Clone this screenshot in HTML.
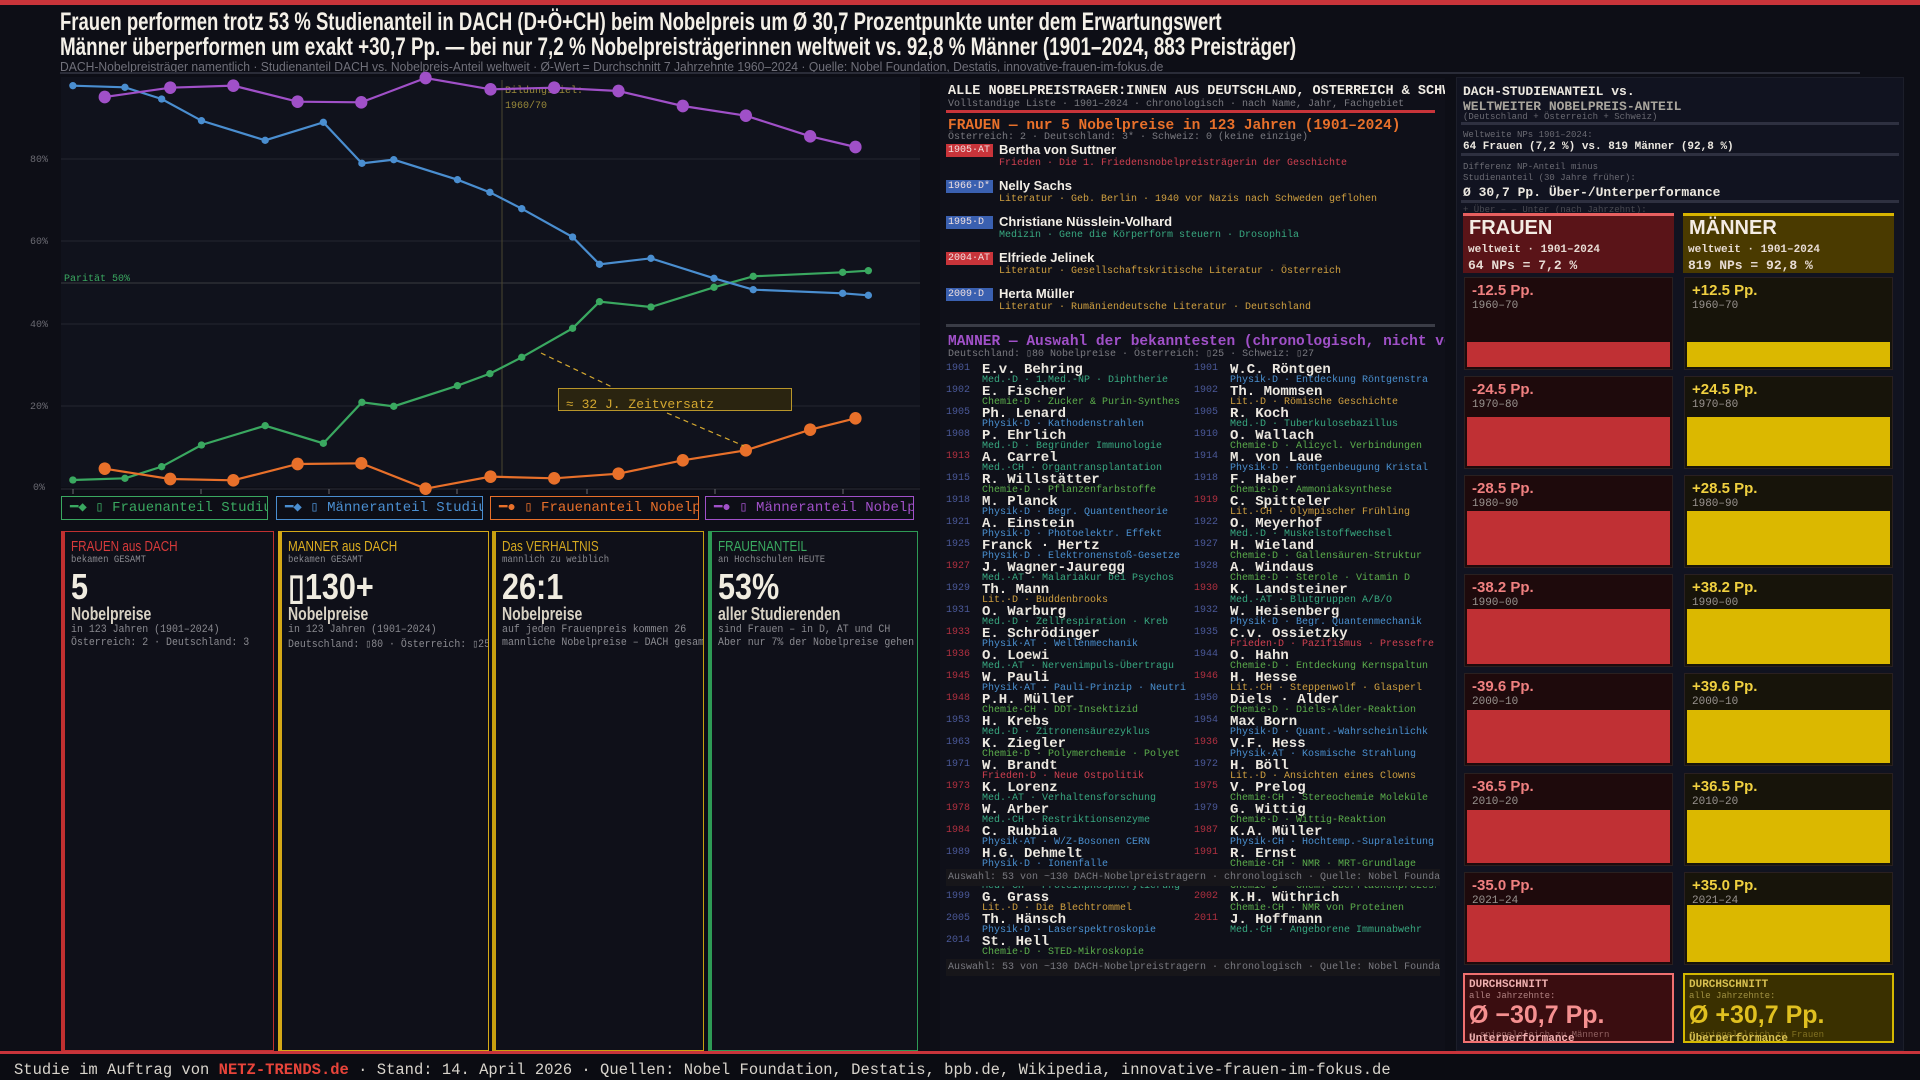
<!DOCTYPE html>
<html><head><meta charset="utf-8">
<style>
*{margin:0;padding:0;box-sizing:border-box}
body{width:1920px;height:1080px;background:#0d0e16;color:#e8e4dc;font-family:"Liberation Mono",monospace;position:relative;overflow:hidden}
.a{position:absolute;white-space:nowrap}
.n{font-family:"Liberation Sans",sans-serif;transform-origin:0 0}
.s{font-family:"Liberation Sans",sans-serif}
.card{position:absolute;top:531px;height:520px;background:#0f1019;border:1px solid;border-left-width:4px;overflow:hidden}
.card div{position:absolute;left:6px;white-space:nowrap;transform-origin:0 0}
.ct{top:6px;font-size:15px;font-family:"Liberation Sans",sans-serif;transform:scaleX(0.78)}
.cs{top:22px;font-size:10.5px;color:#8a8a90;transform:scaleX(0.85)}
.cb{top:34px;font-size:36px;font-weight:bold;font-family:"Liberation Sans",sans-serif;color:#f0ece0;transform:scaleX(0.85)}
.cl{top:72px;font-size:18px;font-weight:bold;font-family:"Liberation Sans",sans-serif;color:#d8d2c4;transform:scaleX(0.78)}
.c1{top:92px;font-size:11px;color:#8a8a90;transform:scaleX(0.9)}
.c2{top:105px;font-size:11px;color:#8a8a90;transform:scaleX(0.9)}
.row{position:absolute;height:22px;white-space:nowrap}
.row .y{position:absolute;left:0;top:0;font-size:10px;color:#4a5898}
.row .y.r{color:#b03040}
.row .nm{position:absolute;left:36px;top:0;font-size:14px;font-weight:bold;line-height:14px;color:#ece8e0}
.row .dt{position:absolute;left:36px;top:13px;font-size:10px;line-height:10px}
.med{color:#38a880}.che{color:#5cae4c}.phy{color:#4a90d0}.lit{color:#d0a040}.fri{color:#d04050}
.fe{position:absolute;left:946px;white-space:nowrap}
.fe .b{position:absolute;left:0;top:0;width:47px;height:13px;font-size:10px;line-height:13px;padding-left:2px;color:#f0e0e0}
.fe .nm{position:absolute;left:53px;top:-2px;font-size:13px;font-weight:bold;font-family:"Liberation Sans",sans-serif;color:#f2eee6}
.fe .dt{position:absolute;left:53px;top:14px;font-size:10px}
.dc{position:absolute;width:209px;height:93px;border:1px solid #2a2020}
.dc .v{position:absolute;left:7px;top:4px;font-size:15px;font-weight:bold;font-family:"Liberation Sans",sans-serif}
.dc .yr{position:absolute;left:7px;top:22px;font-size:11px;color:#9a9490}
.dc .bar{position:absolute;left:2px;right:2px;bottom:2px}
</style></head><body>
<div class="a" style="left:0;top:0;width:1920px;height:5px;background:#c8343a"></div>
<div class="a n" style="left:60px;top:8px;font-size:25px;font-weight:bold;color:#f4f0e8;transform:scaleX(0.74)">Frauen performen trotz 53 % Studienanteil in DACH (D+Ö+CH) beim Nobelpreis um Ø 30,7 Prozentpunkte unter dem Erwartungswert</div>
<div class="a n" style="left:60px;top:33px;font-size:25px;font-weight:bold;color:#f4f0e8;transform:scaleX(0.753)">Männer überperformen um exakt +30,7 Pp. — bei nur 7,2 % Nobelpreisträgerinnen weltweit vs. 92,8 % Männer (1901–2024, 883 Preisträger)</div>
<div class="a n" style="left:60px;top:60px;font-size:12.5px;color:#70707a;transform:scaleX(0.97)">DACH-Nobelpreisträger namentlich · Studienanteil DACH vs. Nobelpreis-Anteil weltweit · Ø-Wert = Durchschnitt 7 Jahrzehnte 1960–2024 · Quelle: Nobel Foundation, Destatis, innovative-frauen-im-fokus.de</div>
<div class="a" style="left:60px;top:72px;width:1800px;height:2px;background:#2a2c38"></div>

<svg class="a" style="left:0;top:0" width="960" height="530" viewBox="0 0 960 530">
<rect x="61" y="77" width="859" height="410" fill="#10121c"/>
<g stroke="#23252f" stroke-width="1">
<line x1="61" x2="920" y1="159" y2="159"/><line x1="61" x2="920" y1="241" y2="241"/>
<line x1="61" x2="920" y1="324" y2="324"/><line x1="61" x2="920" y1="406" y2="406"/>
</g>
<line x1="61" x2="920" y1="283" y2="283" stroke="#3a3c40" stroke-width="1"/>
<line x1="502" x2="502" y1="80" y2="477" stroke="#4a4630" stroke-width="1"/>
<line x1="61" x2="920" y1="489" y2="489" stroke="#2a2c36"/>
<g stroke="#6a6a70"><line x1="73" x2="73" y1="489" y2="494"/><line x1="201" x2="201" y1="489" y2="494"/><line x1="329" x2="329" y1="489" y2="494"/><line x1="457" x2="457" y1="489" y2="494"/><line x1="587" x2="587" y1="489" y2="494"/><line x1="715" x2="715" y1="489" y2="494"/><line x1="843" x2="843" y1="489" y2="494"/></g>
<g font-family="Liberation Mono" font-size="10" fill="#6a6a72" text-anchor="middle">
<text x="39" y="162">80%</text><text x="39" y="244">60%</text><text x="39" y="327">40%</text><text x="39" y="409">20%</text><text x="39" y="490">0%</text>
</g>
<text x="64" y="281" font-family="Liberation Mono" font-size="10" fill="#3aa860">Parität 50%</text>
<text x="505" y="93" font-family="Liberation Mono" font-size="10" fill="#9a8a3a">Bildungsziel:</text>
<text x="505" y="108" font-family="Liberation Mono" font-size="10" fill="#9a8a3a">1960/70</text>
<g transform="scale(0.61237,0.33333)">
<polyline fill="none" stroke="#3aa860" stroke-width="2.2" vector-effect="non-scaling-stroke" points="119,1440 204,1435 264,1400 329,1335 433,1277 528,1330 591,1207 643,1219 747,1157 800,1121 852,1072 935,985 979,905 1063,921 1166,862 1230,829 1376,817 1418,812"/>
<polyline fill="none" stroke="#4a8ed0" stroke-width="2.2" vector-effect="non-scaling-stroke" points="119,257 204,262 264,297 329,362 433,421 528,367 591,490 643,479 747,539 800,577 852,626 935,711 979,793 1063,775 1166,835 1230,869 1376,880 1418,886"/>
<polyline fill="none" stroke="#a050c8" stroke-width="2.2" vector-effect="non-scaling-stroke" points="171,291 278,263 381,257 486,305 590,307 695,234 801,268 905,263 1010,273 1115,318 1218,347 1323,409 1397,441"/>
<polyline fill="none" stroke="#e8702a" stroke-width="2.2" vector-effect="non-scaling-stroke" points="171,1406 278,1437 381,1441 486,1392 590,1390 695,1466 801,1430 905,1435 1010,1421 1115,1381 1218,1351 1323,1289 1397,1255"/>
<g fill="#3aa860"><ellipse cx="119" cy="1440" rx="6" ry="11"/><ellipse cx="204" cy="1435" rx="6" ry="11"/><ellipse cx="264" cy="1400" rx="6" ry="11"/><ellipse cx="329" cy="1335" rx="6" ry="11"/><ellipse cx="433" cy="1277" rx="6" ry="11"/><ellipse cx="528" cy="1330" rx="6" ry="11"/><ellipse cx="591" cy="1207" rx="6" ry="11"/><ellipse cx="643" cy="1219" rx="6" ry="11"/><ellipse cx="747" cy="1157" rx="6" ry="11"/><ellipse cx="800" cy="1121" rx="6" ry="11"/><ellipse cx="852" cy="1072" rx="6" ry="11"/><ellipse cx="935" cy="985" rx="6" ry="11"/><ellipse cx="979" cy="905" rx="6" ry="11"/><ellipse cx="1063" cy="921" rx="6" ry="11"/><ellipse cx="1166" cy="862" rx="6" ry="11"/><ellipse cx="1230" cy="829" rx="6" ry="11"/><ellipse cx="1376" cy="817" rx="6" ry="11"/><ellipse cx="1418" cy="812" rx="6" ry="11"/></g>
<g fill="#4a8ed0"><ellipse cx="119" cy="257" rx="6" ry="11"/><ellipse cx="204" cy="262" rx="6" ry="11"/><ellipse cx="264" cy="297" rx="6" ry="11"/><ellipse cx="329" cy="362" rx="6" ry="11"/><ellipse cx="433" cy="421" rx="6" ry="11"/><ellipse cx="528" cy="367" rx="6" ry="11"/><ellipse cx="591" cy="490" rx="6" ry="11"/><ellipse cx="643" cy="479" rx="6" ry="11"/><ellipse cx="747" cy="539" rx="6" ry="11"/><ellipse cx="800" cy="577" rx="6" ry="11"/><ellipse cx="852" cy="626" rx="6" ry="11"/><ellipse cx="935" cy="711" rx="6" ry="11"/><ellipse cx="979" cy="793" rx="6" ry="11"/><ellipse cx="1063" cy="775" rx="6" ry="11"/><ellipse cx="1166" cy="835" rx="6" ry="11"/><ellipse cx="1230" cy="869" rx="6" ry="11"/><ellipse cx="1376" cy="880" rx="6" ry="11"/><ellipse cx="1418" cy="886" rx="6" ry="11"/></g>
<g fill="#a050c8"><ellipse cx="171" cy="291" rx="10" ry="19"/><ellipse cx="278" cy="263" rx="10" ry="19"/><ellipse cx="381" cy="257" rx="10" ry="19"/><ellipse cx="486" cy="305" rx="10" ry="19"/><ellipse cx="590" cy="307" rx="10" ry="19"/><ellipse cx="695" cy="234" rx="10" ry="19"/><ellipse cx="801" cy="268" rx="10" ry="19"/><ellipse cx="905" cy="263" rx="10" ry="19"/><ellipse cx="1010" cy="273" rx="10" ry="19"/><ellipse cx="1115" cy="318" rx="10" ry="19"/><ellipse cx="1218" cy="347" rx="10" ry="19"/><ellipse cx="1323" cy="409" rx="10" ry="19"/><ellipse cx="1397" cy="441" rx="10" ry="19"/></g>
<g fill="#e8702a"><ellipse cx="171" cy="1406" rx="10" ry="19"/><ellipse cx="278" cy="1437" rx="10" ry="19"/><ellipse cx="381" cy="1441" rx="10" ry="19"/><ellipse cx="486" cy="1392" rx="10" ry="19"/><ellipse cx="590" cy="1390" rx="10" ry="19"/><ellipse cx="695" cy="1466" rx="10" ry="19"/><ellipse cx="801" cy="1430" rx="10" ry="19"/><ellipse cx="905" cy="1435" rx="10" ry="19"/><ellipse cx="1010" cy="1421" rx="10" ry="19"/><ellipse cx="1115" cy="1381" rx="10" ry="19"/><ellipse cx="1218" cy="1351" rx="10" ry="19"/><ellipse cx="1323" cy="1289" rx="10" ry="19"/><ellipse cx="1397" cy="1255" rx="10" ry="19"/></g>
</g>
<line x1="541" y1="353" x2="612" y2="387" stroke="#d4a830" stroke-width="1.2" stroke-dasharray="5,4"/>
<line x1="667" y1="413" x2="744" y2="446" stroke="#d4a830" stroke-width="1.2" stroke-dasharray="5,4"/>
<rect x="558.5" y="388.5" width="233" height="22" fill="#2a2410" stroke="#b8952a"/>
<text x="566" y="408" font-family="Liberation Mono" font-size="13" fill="#d4a830">≈ 32 J. Zeitversatz</text>
</svg>

<!-- legend -->
<div class="a" style="left:61px;top:496px;width:207px;height:24px;border:1px solid #3aa860;overflow:hidden;color:#3aa860;font-size:14px;line-height:22px;padding-left:8px">━◆ ▯ Frauenanteil Studium</div>
<div class="a" style="left:276px;top:496px;width:207px;height:24px;border:1px solid #4a8ed0;overflow:hidden;color:#4a8ed0;font-size:14px;line-height:22px;padding-left:8px">━◆ ▯ Männeranteil Studium</div>
<div class="a" style="left:490px;top:496px;width:209px;height:24px;border:1px solid #e8702a;overflow:hidden;color:#e8702a;font-size:14px;line-height:22px;padding-left:8px">━● ▯ Frauenanteil Nobelpreis</div>
<div class="a" style="left:705px;top:496px;width:209px;height:24px;border:1px solid #a050c8;overflow:hidden;color:#a050c8;font-size:14px;line-height:22px;padding-left:8px">━● ▯ Männeranteil Nobelpreis</div>

<!-- cards -->
<div class="card" style="left:61px;width:213px;border-color:#c03030">
<div class="ct" style="color:#d83a3a">FRAUEN aus DACH</div><div class="cs">bekamen GESAMT</div><div class="cb">5</div><div class="cl">Nobelpreise</div><div class="c1">in 123 Jahren (1901–2024)</div><div class="c2">Österreich: 2 · Deutschland: 3</div></div>
<div class="card" style="left:278px;width:211px;border-color:#d4a817">
<div class="ct" style="color:#e0b020">MANNER aus DACH</div><div class="cs">bekamen GESAMT</div><div class="cb">▯130+</div><div class="cl">Nobelpreise</div><div class="c1">in 123 Jahren (1901–2024)</div><div class="c2">Deutschland: ▯80 · Österreich: ▯25</div></div>
<div class="card" style="left:492px;width:212px;border-color:#c8a010">
<div class="ct" style="color:#d4a820">Das VERHALTNIS</div><div class="cs">mannlich zu weiblich</div><div class="cb">26:1</div><div class="cl">Nobelpreise</div><div class="c1">auf jeden Frauenpreis kommen 26</div><div class="c2">mannliche Nobelpreise – DACH gesamt</div></div>
<div class="card" style="left:708px;width:210px;border-color:#2e9a55">
<div class="ct" style="color:#3aaa60">FRAUENANTEIL</div><div class="cs">an Hochschulen HEUTE</div><div class="cb">53%</div><div class="cl">aller Studierenden</div><div class="c1">sind Frauen – in D, AT und CH</div><div class="c2">Aber nur 7% der Nobelpreise gehen an Frauen</div></div>

<!-- middle panel -->
<div class="a" style="left:940px;top:78px;width:505px;height:973px;background:#0f1019;overflow:hidden">
<div class="a" style="left:8px;top:6px;font-size:13.5px;font-weight:bold;color:#f0ece4">ALLE NOBELPREISTRAGER:INNEN AUS DEUTSCHLAND, OSTERREICH &amp; SCHWEIZ</div>
<div class="a" style="left:8px;top:21px;font-size:10px;color:#7a7a80">Vollstandige Liste · 1901–2024 · chronologisch · nach Name, Jahr, Fachgebiet</div>
<div class="a" style="left:6px;top:32px;width:489px;height:3px;background:#c8343a"></div>
<div class="a" style="left:8px;top:40px;font-size:14.5px;font-weight:bold;color:#e8702a">FRAUEN — nur 5 Nobelpreise in 123 Jahren (1901–2024)</div>
<div class="a" style="left:8px;top:54px;font-size:10px;color:#7a7a80">Österreich: 2 · Deutschland: 3* · Schweiz: 0 (keine einzige)</div>
<div class="a" style="left:6px;top:246px;width:489px;height:3px;background:#3a3c46"></div>
<div class="a" style="left:8px;top:256px;font-size:14.5px;font-weight:bold;color:#a050c8">MANNER — Auswahl der bekanntesten (chronologisch, nicht vollständig)</div>
<div class="a" style="left:8px;top:270px;font-size:10px;color:#7a7a80">Deutschland: ▯80 Nobelpreise · Österreich: ▯25 · Schweiz: ▯27</div>
</div>

<div class="fe" style="top:144px"><div class="b" style="background:#c8343a">1905·AT</div><div class="nm">Bertha von Suttner</div><div class="dt fri">Frieden · Die 1. Friedensnobelpreisträgerin der Geschichte</div></div>
<div class="fe" style="top:180px"><div class="b" style="background:#3a60b0">1966·D*</div><div class="nm">Nelly Sachs</div><div class="dt lit">Literatur · Geb. Berlin · 1940 vor Nazis nach Schweden geflohen</div></div>
<div class="fe" style="top:216px"><div class="b" style="background:#3a60b0">1995·D</div><div class="nm">Christiane Nüsslein-Volhard</div><div class="dt med">Medizin · Gene die Körperform steuern · Drosophila</div></div>
<div class="fe" style="top:252px"><div class="b" style="background:#c8343a">2004·AT</div><div class="nm">Elfriede Jelinek</div><div class="dt lit">Literatur · Gesellschaftskritische Literatur · Österreich</div></div>
<div class="fe" style="top:288px"><div class="b" style="background:#3a60b0">2009·D</div><div class="nm">Herta Müller</div><div class="dt lit">Literatur · Rumäniendeutsche Literatur · Deutschland</div></div>

<div class="a" style="left:946px;top:363px;width:490px;height:640px;overflow:hidden">
<div class="row" style="left:0;top:0"><span class="y">1901</span><span class="nm">E.v. Behring</span><span class="dt med">Med.·D · 1.Med.-NP · Diphtherie</span></div>
<div class="row" style="left:0;top:22px"><span class="y">1902</span><span class="nm">E. Fischer</span><span class="dt che">Chemie·D · Zucker &amp; Purin-Synthes</span></div>
<div class="row" style="left:0;top:44px"><span class="y">1905</span><span class="nm">Ph. Lenard</span><span class="dt phy">Physik·D · Kathodenstrahlen</span></div>
<div class="row" style="left:0;top:66px"><span class="y">1908</span><span class="nm">P. Ehrlich</span><span class="dt med">Med.·D · Begründer Immunologie</span></div>
<div class="row" style="left:0;top:88px"><span class="y r">1913</span><span class="nm">A. Carrel</span><span class="dt med">Med.·CH · Organtransplantation</span></div>
<div class="row" style="left:0;top:110px"><span class="y">1915</span><span class="nm">R. Willstätter</span><span class="dt che">Chemie·D · Pflanzenfarbstoffe</span></div>
<div class="row" style="left:0;top:132px"><span class="y">1918</span><span class="nm">M. Planck</span><span class="dt phy">Physik·D · Begr. Quantentheorie</span></div>
<div class="row" style="left:0;top:154px"><span class="y">1921</span><span class="nm">A. Einstein</span><span class="dt phy">Physik·D · Photoelektr. Effekt</span></div>
<div class="row" style="left:0;top:176px"><span class="y">1925</span><span class="nm">Franck · Hertz</span><span class="dt phy">Physik·D · Elektronenstoß-Gesetze</span></div>
<div class="row" style="left:0;top:198px"><span class="y r">1927</span><span class="nm">J. Wagner-Jauregg</span><span class="dt med">Med.·AT · Malariakur bei Psychos</span></div>
<div class="row" style="left:0;top:220px"><span class="y">1929</span><span class="nm">Th. Mann</span><span class="dt lit">Lit.·D · Buddenbrooks</span></div>
<div class="row" style="left:0;top:242px"><span class="y">1931</span><span class="nm">O. Warburg</span><span class="dt med">Med.·D · Zellrespiration · Kreb</span></div>
<div class="row" style="left:0;top:264px"><span class="y r">1933</span><span class="nm">E. Schrödinger</span><span class="dt phy">Physik·AT · Wellenmechanik</span></div>
<div class="row" style="left:0;top:286px"><span class="y r">1936</span><span class="nm">O. Loewi</span><span class="dt med">Med.·AT · Nervenimpuls-Übertragu</span></div>
<div class="row" style="left:0;top:308px"><span class="y r">1945</span><span class="nm">W. Pauli</span><span class="dt phy">Physik·AT · Pauli-Prinzip · Neutri</span></div>
<div class="row" style="left:0;top:330px"><span class="y r">1948</span><span class="nm">P.H. Müller</span><span class="dt che">Chemie·CH · DDT-Insektizid</span></div>
<div class="row" style="left:0;top:352px"><span class="y">1953</span><span class="nm">H. Krebs</span><span class="dt med">Med.·D · Zitronensäurezyklus</span></div>
<div class="row" style="left:0;top:374px"><span class="y">1963</span><span class="nm">K. Ziegler</span><span class="dt che">Chemie·D · Polymerchemie · Polyet</span></div>
<div class="row" style="left:0;top:396px"><span class="y">1971</span><span class="nm">W. Brandt</span><span class="dt fri">Frieden·D · Neue Ostpolitik</span></div>
<div class="row" style="left:0;top:418px"><span class="y r">1973</span><span class="nm">K. Lorenz</span><span class="dt med">Med.·AT · Verhaltensforschung</span></div>
<div class="row" style="left:0;top:440px"><span class="y r">1978</span><span class="nm">W. Arber</span><span class="dt med">Med.·CH · Restriktionsenzyme</span></div>
<div class="row" style="left:0;top:462px"><span class="y r">1984</span><span class="nm">C. Rubbia</span><span class="dt phy">Physik·AT · W/Z-Bosonen CERN</span></div>
<div class="row" style="left:0;top:484px"><span class="y">1989</span><span class="nm">H.G. Dehmelt</span><span class="dt phy">Physik·D · Ionenfalle</span></div>
<div class="row" style="left:0;top:506px"><span class="y r">1992</span><span class="nm">E. Fischer</span><span class="dt med">Med.·CH · Proteinphosphorylierung</span></div>
<div class="row" style="left:0;top:528px"><span class="y">1999</span><span class="nm">G. Grass</span><span class="dt lit">Lit.·D · Die Blechtrommel</span></div>
<div class="row" style="left:0;top:550px"><span class="y">2005</span><span class="nm">Th. Hänsch</span><span class="dt phy">Physik·D · Laserspektroskopie</span></div>
<div class="row" style="left:0;top:572px"><span class="y">2014</span><span class="nm">St. Hell</span><span class="dt che">Chemie·D · STED-Mikroskopie</span></div>

<div class="row" style="left:248px;top:0"><span class="y">1901</span><span class="nm">W.C. Röntgen</span><span class="dt phy">Physik·D · Entdeckung Röntgenstra</span></div>
<div class="row" style="left:248px;top:22px"><span class="y">1902</span><span class="nm">Th. Mommsen</span><span class="dt lit">Lit.·D · Römische Geschichte</span></div>
<div class="row" style="left:248px;top:44px"><span class="y">1905</span><span class="nm">R. Koch</span><span class="dt med">Med.·D · Tuberkulosebazillus</span></div>
<div class="row" style="left:248px;top:66px"><span class="y">1910</span><span class="nm">O. Wallach</span><span class="dt che">Chemie·D · Alicycl. Verbindungen</span></div>
<div class="row" style="left:248px;top:88px"><span class="y">1914</span><span class="nm">M. von Laue</span><span class="dt phy">Physik·D · Röntgenbeugung Kristal</span></div>
<div class="row" style="left:248px;top:110px"><span class="y">1918</span><span class="nm">F. Haber</span><span class="dt che">Chemie·D · Ammoniaksynthese</span></div>
<div class="row" style="left:248px;top:132px"><span class="y r">1919</span><span class="nm">C. Spitteler</span><span class="dt lit">Lit.·CH · Olympischer Frühling</span></div>
<div class="row" style="left:248px;top:154px"><span class="y">1922</span><span class="nm">O. Meyerhof</span><span class="dt med">Med.·D · Muskelstoffwechsel</span></div>
<div class="row" style="left:248px;top:176px"><span class="y">1927</span><span class="nm">H. Wieland</span><span class="dt che">Chemie·D · Gallensäuren-Struktur</span></div>
<div class="row" style="left:248px;top:198px"><span class="y">1928</span><span class="nm">A. Windaus</span><span class="dt che">Chemie·D · Sterole · Vitamin D</span></div>
<div class="row" style="left:248px;top:220px"><span class="y r">1930</span><span class="nm">K. Landsteiner</span><span class="dt med">Med.·AT · Blutgruppen A/B/O</span></div>
<div class="row" style="left:248px;top:242px"><span class="y">1932</span><span class="nm">W. Heisenberg</span><span class="dt phy">Physik·D · Begr. Quantenmechanik</span></div>
<div class="row" style="left:248px;top:264px"><span class="y">1935</span><span class="nm">C.v. Ossietzky</span><span class="dt fri">Frieden·D · Pazifismus · Pressefre</span></div>
<div class="row" style="left:248px;top:286px"><span class="y">1944</span><span class="nm">O. Hahn</span><span class="dt che">Chemie·D · Entdeckung Kernspaltun</span></div>
<div class="row" style="left:248px;top:308px"><span class="y r">1946</span><span class="nm">H. Hesse</span><span class="dt lit">Lit.·CH · Steppenwolf · Glasperl</span></div>
<div class="row" style="left:248px;top:330px"><span class="y">1950</span><span class="nm">Diels · Alder</span><span class="dt che">Chemie·D · Diels-Alder-Reaktion</span></div>
<div class="row" style="left:248px;top:352px"><span class="y">1954</span><span class="nm">Max Born</span><span class="dt phy">Physik·D · Quant.-Wahrscheinlichk</span></div>
<div class="row" style="left:248px;top:374px"><span class="y r">1936</span><span class="nm">V.F. Hess</span><span class="dt phy">Physik·AT · Kosmische Strahlung</span></div>
<div class="row" style="left:248px;top:396px"><span class="y">1972</span><span class="nm">H. Böll</span><span class="dt lit">Lit.·D · Ansichten eines Clowns</span></div>
<div class="row" style="left:248px;top:418px"><span class="y r">1975</span><span class="nm">V. Prelog</span><span class="dt che">Chemie·CH · Stereochemie Moleküle</span></div>
<div class="row" style="left:248px;top:440px"><span class="y">1979</span><span class="nm">G. Wittig</span><span class="dt che">Chemie·D · Wittig-Reaktion</span></div>
<div class="row" style="left:248px;top:462px"><span class="y r">1987</span><span class="nm">K.A. Müller</span><span class="dt phy">Physik·CH · Hochtemp.-Supraleitung</span></div>
<div class="row" style="left:248px;top:484px"><span class="y r">1991</span><span class="nm">R. Ernst</span><span class="dt che">Chemie·CH · NMR · MRT-Grundlage</span></div>
<div class="row" style="left:248px;top:506px"><span class="y">2007</span><span class="nm">G. Ertl</span><span class="dt che">Chemie·D · Chem. Oberflächenprozesse</span></div>
<div class="row" style="left:248px;top:528px"><span class="y r">2002</span><span class="nm">K.H. Wüthrich</span><span class="dt che">Chemie·CH · NMR von Proteinen</span></div>
<div class="row" style="left:248px;top:550px"><span class="y r">2011</span><span class="nm">J. Hoffmann</span><span class="dt med">Med.·CH · Angeborene Immunabwehr</span></div>
</div>
<div class="a" style="left:946px;top:869px;width:494px;height:17px;background:#17161a;font-size:10px;line-height:17px;color:#7a7a80;padding-left:2px;overflow:hidden">Auswahl: 53 von ~130 DACH-Nobelpreistragern · chronologisch · Quelle: Nobel Foundation</div>
<div class="a" style="left:946px;top:959px;width:494px;height:17px;background:#17161a;font-size:10px;line-height:17px;color:#7a7a80;padding-left:2px;overflow:hidden">Auswahl: 53 von ~130 DACH-Nobelpreistragern · chronologisch · Quelle: Nobel Foundation</div>

<!-- right panel -->
<div class="a" style="left:1456px;top:77px;width:448px;height:974px;background:#111320;border:1px solid #1c1e2a"></div>
<div class="a" style="left:1463px;top:84px;font-size:13px;font-weight:bold;color:#ece8e0">DACH-STUDIENANTEIL vs.</div>
<div class="a" style="left:1463px;top:99px;font-size:13px;font-weight:bold;color:#a8a49c">WELTWEITER NOBELPREIS-ANTEIL</div>
<div class="a" style="left:1463px;top:112px;font-size:9px;color:#6a6a72">(Deutschland + Österreich + Schweiz)</div>
<div class="a" style="left:1461px;top:122px;width:438px;height:3px;background:#2e3040"></div>
<div class="a" style="left:1463px;top:130px;font-size:9px;color:#6a6a72">Weltweite NPs 1901–2024:</div>
<div class="a" style="left:1463px;top:141px;font-size:11px;font-weight:bold;color:#ece8e0">64 Frauen (7,2 %) vs. 819 Männer (92,8 %)</div>
<div class="a" style="left:1461px;top:153px;width:438px;height:3px;background:#2e3040"></div>
<div class="a" style="left:1463px;top:162px;font-size:9px;color:#6a6a72">Differenz NP-Anteil minus</div>
<div class="a" style="left:1463px;top:173px;font-size:9px;color:#6a6a72">Studienanteil (30 Jahre früher):</div>
<div class="a" style="left:1463px;top:185px;font-size:13px;font-weight:bold;color:#ece8e0">Ø 30,7 Pp. Über-/Unterperformance</div>
<div class="a" style="left:1461px;top:200px;width:438px;height:3px;background:#2e3040"></div>
<div class="a" style="left:1463px;top:205px;font-size:9px;color:#4a4a52">+ Über – – Unter (nach Jahrzehnt):</div>

<div class="a" style="left:1463px;top:213px;width:211px;height:60px;background:#5a1418;border-top:3px solid #e86060"></div>
<div class="a s" style="left:1469px;top:217px;font-size:20px;font-weight:bold;color:#f4ece4">FRAUEN</div>
<div class="a" style="left:1468px;top:244px;font-size:11px;font-weight:bold;color:#e8dcd4">weltweit · 1901–2024</div>
<div class="a" style="left:1468px;top:258px;font-size:13px;font-weight:bold;color:#e8dcd4">64 NPs = 7,2 %</div>
<div class="a" style="left:1683px;top:213px;width:211px;height:60px;background:#4a3a00;border-top:3px solid #d8b400"></div>
<div class="a s" style="left:1689px;top:217px;font-size:20px;font-weight:bold;color:#f4ece4">MÄNNER</div>
<div class="a" style="left:1688px;top:244px;font-size:11px;font-weight:bold;color:#e8dcd4">weltweit · 1901–2024</div>
<div class="a" style="left:1688px;top:258px;font-size:13px;font-weight:bold;color:#e8dcd4">819 NPs = 92,8 %</div>

<div class="dc" style="left:1464px;top:277px;background:#1e0a0c"><div class="v" style="color:#f08080">-12.5 Pp.</div><div class="yr">1960–70</div><div class="bar" style="height:25px;background:#c03034"></div></div>
<div class="dc" style="left:1684px;top:277px;background:#17140a"><div class="v" style="color:#f0d040">+12.5 Pp.</div><div class="yr">1960–70</div><div class="bar" style="height:25px;background:#dbb800"></div></div>
<div class="dc" style="left:1464px;top:376px;background:#1e0a0c"><div class="v" style="color:#f08080">-24.5 Pp.</div><div class="yr">1970–80</div><div class="bar" style="height:49px;background:#c03034"></div></div>
<div class="dc" style="left:1684px;top:376px;background:#17140a"><div class="v" style="color:#f0d040">+24.5 Pp.</div><div class="yr">1970–80</div><div class="bar" style="height:49px;background:#dbb800"></div></div>
<div class="dc" style="left:1464px;top:475px;background:#1e0a0c"><div class="v" style="color:#f08080">-28.5 Pp.</div><div class="yr">1980–90</div><div class="bar" style="height:54px;background:#c03034"></div></div>
<div class="dc" style="left:1684px;top:475px;background:#17140a"><div class="v" style="color:#f0d040">+28.5 Pp.</div><div class="yr">1980–90</div><div class="bar" style="height:54px;background:#dbb800"></div></div>
<div class="dc" style="left:1464px;top:574px;background:#1e0a0c"><div class="v" style="color:#f08080">-38.2 Pp.</div><div class="yr">1990–00</div><div class="bar" style="height:55px;background:#c03034"></div></div>
<div class="dc" style="left:1684px;top:574px;background:#17140a"><div class="v" style="color:#f0d040">+38.2 Pp.</div><div class="yr">1990–00</div><div class="bar" style="height:55px;background:#dbb800"></div></div>
<div class="dc" style="left:1464px;top:673px;background:#1e0a0c"><div class="v" style="color:#f08080">-39.6 Pp.</div><div class="yr">2000–10</div><div class="bar" style="height:53px;background:#c03034"></div></div>
<div class="dc" style="left:1684px;top:673px;background:#17140a"><div class="v" style="color:#f0d040">+39.6 Pp.</div><div class="yr">2000–10</div><div class="bar" style="height:53px;background:#dbb800"></div></div>
<div class="dc" style="left:1464px;top:773px;background:#1e0a0c"><div class="v" style="color:#f08080">-36.5 Pp.</div><div class="yr">2010–20</div><div class="bar" style="height:53px;background:#c03034"></div></div>
<div class="dc" style="left:1684px;top:773px;background:#17140a"><div class="v" style="color:#f0d040">+36.5 Pp.</div><div class="yr">2010–20</div><div class="bar" style="height:53px;background:#dbb800"></div></div>
<div class="dc" style="left:1464px;top:872px;background:#1e0a0c"><div class="v" style="color:#f08080">-35.0 Pp.</div><div class="yr">2021–24</div><div class="bar" style="height:57px;background:#c03034"></div></div>
<div class="dc" style="left:1684px;top:872px;background:#17140a"><div class="v" style="color:#f0d040">+35.0 Pp.</div><div class="yr">2021–24</div><div class="bar" style="height:57px;background:#dbb800"></div></div>

<div class="a" style="left:1463px;top:973px;width:211px;height:70px;background:#3a0d10;border:2px solid #f07070;overflow:hidden">
<div class="a" style="left:4px;top:4px;font-size:11px;font-weight:bold;color:#f0b0b0">DURCHSCHNITT</div>
<div class="a" style="left:4px;top:16px;font-size:9px;color:#b08080">alle Jahrzehnte:</div>
<div class="a s" style="left:4px;top:26px;font-size:25px;font-weight:bold;color:#f59090">Ø −30,7 Pp.</div>
<div class="a" style="left:4px;top:55px;font-size:9px;color:#906060">↓ spiegelgleich zu Männern</div>
<div class="a" style="left:4px;top:58px;font-size:11px;font-weight:bold;color:#f0b0b0">Unterperformance</div>
</div>
<div class="a" style="left:1683px;top:973px;width:211px;height:70px;background:#3a3000;border:2px solid #d4b800;overflow:hidden">
<div class="a" style="left:4px;top:4px;font-size:11px;font-weight:bold;color:#d8c050">DURCHSCHNITT</div>
<div class="a" style="left:4px;top:16px;font-size:9px;color:#a09040">alle Jahrzehnte:</div>
<div class="a s" style="left:4px;top:26px;font-size:25px;font-weight:bold;color:#e0c020">Ø +30,7 Pp.</div>
<div class="a" style="left:4px;top:55px;font-size:9px;color:#807020">↑ spiegelgleich zu Frauen</div>
<div class="a" style="left:4px;top:58px;font-size:11px;font-weight:bold;color:#d8c050">Überperformance</div>
</div>

<!-- footer -->
<div class="a" style="left:0;top:1051px;width:1920px;height:29px;background:#0b0c12;border-top:3px solid #c8343a"></div>
<div class="a" style="left:14px;top:1061px;font-size:15.5px;color:#d8d4cc">Studie im Auftrag von <b style="color:#e8443a">NETZ-TRENDS.de</b> · Stand: 14. April 2026 · Quellen: Nobel Foundation, Destatis, bpb.de, Wikipedia, innovative-frauen-im-fokus.de</div>
</body></html>
